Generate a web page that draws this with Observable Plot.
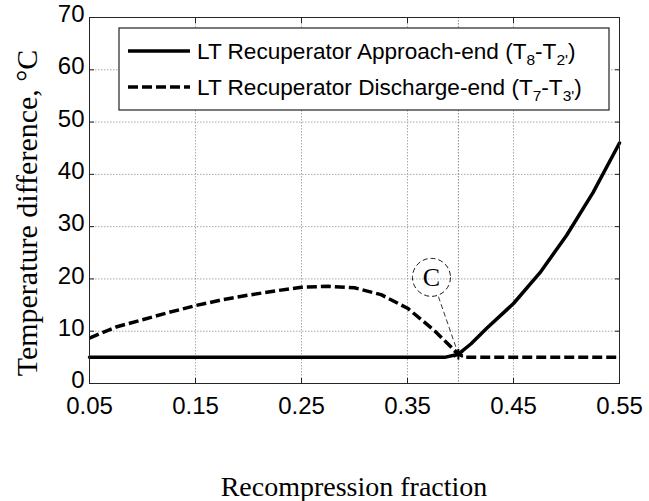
<!DOCTYPE html>
<html><head><meta charset="utf-8">
<script src="https://cdn.jsdelivr.net/npm/d3@7"></script>
<script src="https://cdn.jsdelivr.net/npm/@observablehq/plot@0.6"></script>
<style>body{margin:0;background:#fff}#chart{width:649px;height:501px}</style>
</head><body><div id="chart"></div>
<script>
// Data
const approachFraction = [0.05, 0.10, 0.15, 0.20, 0.25, 0.30, 0.35, 0.385, 0.398, 0.41, 0.425, 0.45, 0.475, 0.50, 0.525, 0.55];
const approachEnd      = [5, 5, 5, 5, 5, 5, 5, 5, 5.6, 7.6, 10.6, 15.3, 21.2, 28.3, 36.5, 46];
const dischargeFraction = [0.05, 0.075, 0.10, 0.125, 0.15, 0.175, 0.20, 0.225, 0.25, 0.275, 0.30, 0.325, 0.35, 0.375, 0.388, 0.398, 0.405, 0.45, 0.50, 0.55];
const dischargeEnd      = [8.7, 10.8, 12.2, 13.6, 14.9, 16.0, 16.9, 17.7, 18.4, 18.6, 18.3, 17.0, 14.4, 10.2, 7.6, 5.6, 5, 5, 5, 5];
const xTicks = [0.05, 0.15, 0.25, 0.35, 0.45, 0.55];
const yTicks = [0, 10, 20, 30, 40, 50, 60, 70];
const pointC = [{x: 0.398, y: 5.6}];
const calloutC = [{x: 0.3726, y: 20.3, label: "C"}];
const leader = [{x1: 0.3792, y1: 16.6, x2: 0.398, y2: 5.6}];
const legendItems = [
  {name: "LT Recuperator Approach-end (T", s1: "8", mid: "-T", s2: "2'", end: ")", dash: null},
  {name: "LT Recuperator Discharge-end (T", s1: "7", mid: "-T", s2: "3'", end: ")", dash: "10,4"}
];
const xLabel = "Recompression fraction";
const yLabel = "Temperature difference, \u00B0C";

const approach = approachFraction.map((x, i) => ({x, y: approachEnd[i]}));
const discharge = dischargeFraction.map((x, i) => ({x, y: dischargeEnd[i]}));

const grid = {stroke: "#a8a8a8", strokeOpacity: 1, strokeDasharray: "1.5,1.5"};
const tickStyle = {tickSize: -5, tickFormat: () => "", label: null, stroke: "#222"};

const plot = Plot.plot({
  width: 649, height: 501,
  marginLeft: 89, marginRight: 30, marginTop: 17, marginBottom: 118,
  x: {domain: [0.05, 0.55]},
  y: {domain: [0, 70]},
  style: {fontFamily: "'Liberation Sans', Arial, sans-serif", fontSize: "24px", color: "#000", background: "#fff"},
  marks: [
    Plot.gridX(xTicks, grid),
    Plot.gridY(yTicks, grid),
    Plot.ruleX(pointC, {x: "x", stroke: "#888", strokeDasharray: "1.5,1.5"}),
    Plot.link(leader, {x1: "x1", y1: "y1", x2: "x2", y2: "y2", stroke: "#000", strokeWidth: 0.8, strokeDasharray: "5,3"}),
    Plot.dot(calloutC, {x: "x", y: "y", r: 19, stroke: "#000", strokeWidth: 0.9, strokeDasharray: "5,3", fill: "none"}),
    Plot.text(calloutC, {x: "x", y: "y", text: "label", fontFamily: "'Liberation Serif', 'Times New Roman', serif", fontSize: 26, fill: "#000"}),
    Plot.line(approach, {x: "x", y: "y", stroke: "#000", strokeWidth: 3.5}),
    Plot.line(discharge, {x: "x", y: "y", stroke: "#000", strokeWidth: 3.5, strokeDasharray: "10,4", strokeLinecap: "butt"}),
    Plot.dot(pointC, {x: "x", y: "y", symbol: "asterisk", r: 5, stroke: "#000", strokeWidth: 2}),
    Plot.frame({stroke: "#262626"}),
    Plot.axisX(xTicks, {anchor: "bottom", ...tickStyle}),
    Plot.axisX(xTicks, {anchor: "top", ...tickStyle}),
    Plot.axisY(yTicks, {anchor: "left", ...tickStyle}),
    Plot.axisY(yTicks, {anchor: "right", ...tickStyle}),
    Plot.axisX(xTicks, {anchor: "bottom", tickSize: 0, tickPadding: 13, tickFormat: d => d.toFixed(2), label: null, fontSize: 24}),
    Plot.axisY(yTicks, {anchor: "left", tickSize: 0, tickPadding: 5, dy: -3, tickFormat: d => String(d), label: null, fontSize: 24})
  ]
});
document.getElementById("chart").appendChild(plot);

const svg = d3.select(plot);
// axis titles
svg.append("text").text(xLabel)
  .attr("x", (89 + 619) / 2).attr("y", 496)
  .attr("text-anchor", "middle")
  .attr("font-family", "'Liberation Serif', 'Times New Roman', serif").attr("font-size", 28).attr("fill", "#000");
svg.append("text").text(yLabel)
  .attr("transform", `translate(37,213) rotate(-90)`)
  .attr("text-anchor", "middle")
  .attr("font-family", "'Liberation Serif', 'Times New Roman', serif").attr("font-size", 30).attr("fill", "#000");

// legend
const lg = svg.append("g");
lg.append("rect").attr("x", 119).attr("y", 28).attr("width", 490).attr("height", 82)
  .attr("fill", "#fff").attr("stroke", "#222").attr("stroke-width", 1.2);
legendItems.forEach((d, i) => {
  const cy = 51 + i * 36;
  lg.append("line").attr("x1", 128).attr("x2", 190).attr("y1", cy).attr("y2", cy)
    .attr("stroke", "#000").attr("stroke-width", 3.5)
    .attr("stroke-dasharray", d.dash);
  const t = lg.append("text").attr("x", 197).attr("y", cy + 8)
    .attr("text-anchor", "start")
    .attr("font-family", "'Liberation Sans', Arial, sans-serif").attr("font-size", 22.6).attr("fill", "#000");
  t.append("tspan").text(d.name);
  t.append("tspan").text(d.s1).attr("font-size", 15.5).attr("dy", 6);
  t.append("tspan").text(d.mid).attr("dy", -6);
  t.append("tspan").text(d.s2).attr("font-size", 15.5).attr("dy", 6);
  t.append("tspan").text(d.end).attr("dy", -6);
});
</script></body></html>
